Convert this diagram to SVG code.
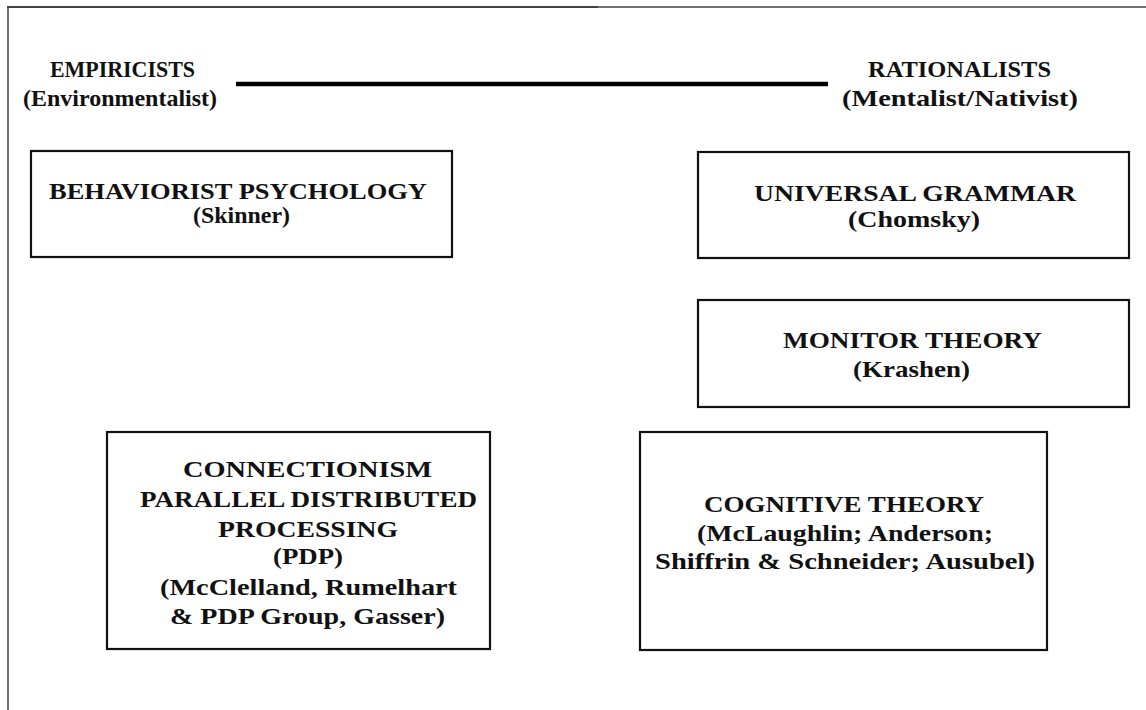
<svg xmlns="http://www.w3.org/2000/svg" width="1146" height="710" viewBox="0 0 1146 710">
<style>
text{font-family:"Liberation Serif","Times New Roman",serif;font-weight:bold;font-size:22.5px;fill:#111;text-anchor:middle}
.box{fill:#fff;stroke:#111;stroke-width:2.2}
.frame{stroke:#444;fill:none}
</style>
<rect width="1146" height="710" fill="#fff"/>
<g id="frame">
<line class="frame" x1="7" y1="7" x2="598" y2="7" stroke-width="2"/>
<line class="frame" x1="598" y1="7" x2="1146" y2="7" stroke-width="1.3"/>
<line class="frame" x1="8" y1="6" x2="8" y2="710" stroke-width="1.5"/>
</g>
<g id="connectors">
<line x1="236" y1="84" x2="828" y2="84" stroke="#000" stroke-width="4.5"/>
</g>
<g id="empiricists">
<text x="122.5" y="77" textLength="145" lengthAdjust="spacingAndGlyphs">EMPIRICISTS</text>
<text x="120" y="105.5" textLength="194" lengthAdjust="spacingAndGlyphs">(Environmentalist)</text>
</g>
<g id="rationalists">
<text x="959.5" y="77" textLength="183" lengthAdjust="spacingAndGlyphs">RATIONALISTS</text>
<text x="960" y="105.5" textLength="236" lengthAdjust="spacingAndGlyphs">(Mentalist/Nativist)</text>
</g>
<g id="behaviorist">
<rect class="box" x="31" y="151" width="421" height="106"/>
<text x="238" y="199" textLength="378" lengthAdjust="spacingAndGlyphs">BEHAVIORIST PSYCHOLOGY</text>
<text x="241.5" y="223" textLength="97" lengthAdjust="spacingAndGlyphs">(Skinner)</text>
</g>
<g id="universal-grammar">
<rect class="box" x="698" y="152" width="431" height="106"/>
<text x="915" y="200.5" textLength="322" lengthAdjust="spacingAndGlyphs">UNIVERSAL GRAMMAR</text>
<text x="914" y="227" textLength="132" lengthAdjust="spacingAndGlyphs">(Chomsky)</text>
</g>
<g id="monitor-theory">
<rect class="box" x="698" y="300" width="431" height="107"/>
<text x="912.5" y="348" textLength="259" lengthAdjust="spacingAndGlyphs">MONITOR THEORY</text>
<text x="911.5" y="377" textLength="117" lengthAdjust="spacingAndGlyphs">(Krashen)</text>
</g>
<g id="connectionism">
<rect class="box" x="107" y="432" width="383" height="217"/>
<text x="307.5" y="477" textLength="249" lengthAdjust="spacingAndGlyphs">CONNECTIONISM</text>
<text x="308.5" y="507" textLength="337" lengthAdjust="spacingAndGlyphs">PARALLEL DISTRIBUTED</text>
<text x="308" y="536.5" textLength="180" lengthAdjust="spacingAndGlyphs">PROCESSING</text>
<text x="308" y="564" textLength="70" lengthAdjust="spacingAndGlyphs">(PDP)</text>
<text x="308.5" y="595" textLength="297" lengthAdjust="spacingAndGlyphs">(McClelland, Rumelhart</text>
<text x="307.5" y="624" textLength="275" lengthAdjust="spacingAndGlyphs">&amp; PDP Group, Gasser)</text>
</g>
<g id="cognitive-theory">
<rect class="box" x="640" y="432" width="407" height="218"/>
<text x="844" y="512" textLength="280" lengthAdjust="spacingAndGlyphs">COGNITIVE THEORY</text>
<text x="845" y="540.5" textLength="296" lengthAdjust="spacingAndGlyphs">(McLaughlin; Anderson;</text>
<text x="845" y="569" textLength="380" lengthAdjust="spacingAndGlyphs">Shiffrin &amp; Schneider; Ausubel)</text>
</g>
</svg>
